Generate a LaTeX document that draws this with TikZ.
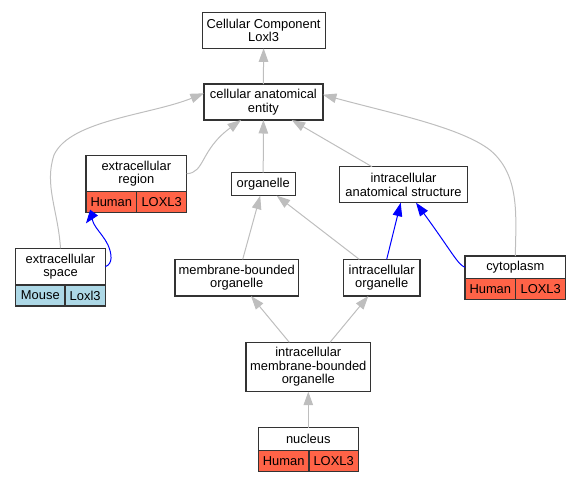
\documentclass[tikz,border=0pt]{standalone}
\usepackage{fontspec}
\setmainfont{Liberation Sans}
\usetikzlibrary{arrows.meta,positioning}
\definecolor{human}{HTML}{FF6347}
\definecolor{mouse}{HTML}{ADD8E6}
\definecolor{isagray}{HTML}{BEBEBE}
\tikzset{>={Triangle[length=13.5pt,width=9.5pt]}}
\tikzset{
  term/.style={draw=black!80, line width=1.2pt, fill=white, align=center,
    inner sep=0pt, outer sep=0pt, font=\fontsize{12.9}{13.4}\selectfont},
  cell/.style={term, minimum height=21pt, anchor=north west},
  isa/.style={->, draw=isagray, line width=1pt},
  partof/.style={->, draw=blue, line width=1pt}
}

\begin{document}
\begin{tikzpicture}[x=1pt,y=1pt,yscale=-1]
\useasboundingbox (0,0) rectangle (580,483);

%Shape: Rectangle [root]
\node[term, minimum width=123pt, minimum height=35.6pt] (root) at (263.6,30.5) {Cellular Component\\Loxl3};
%Shape: Rectangle [cae]
\node[term, minimum width=119pt, minimum height=36pt] (cae) at (263.4,102) {cellular anatomical\\entity};
%Shape: Table [extreg]
\node[term, minimum width=100.7pt, minimum height=36pt] (extreg) at (136.3,173.7) {extracellular\\region};
\node[cell, fill=human, minimum width=50.7pt] (extregHs) at (extreg.south west) {Human};
\node[cell, fill=human, minimum width=50pt] (extregGn) at (extregHs.north east) {LOXL3};
%Shape: Rectangle [organelle]
\node[term, minimum width=64pt, minimum height=23pt] (organelle) at (263.2,184.2) {organelle};
%Shape: Rectangle [ias]
\node[term, minimum width=128.4pt, minimum height=36pt] (ias) at (403.5,184.7) {intracellular\\anatomical structure};
%Shape: Table [extspace]
\node[term, minimum width=89.6pt, minimum height=36.7pt] (extspace) at (60.5,266.6) {extracellular\\space};
\node[cell, fill=mouse, minimum width=49.3pt] (extspaceMm) at (extspace.south west) {Mouse};
\node[cell, fill=mouse, minimum width=40.3pt] (extspaceGn) at (extspaceMm.north east) {Loxl3};
%Shape: Rectangle [mbo]
\node[term, minimum width=123.3pt, minimum height=36.7pt] (mbo) at (236.7,277.7) {membrane-bounded\\organelle};
%Shape: Rectangle [io]
\node[term, minimum width=76.7pt, minimum height=36.7pt] (io) at (381.7,277.7) {intracellular\\organelle};
%Shape: Table [cyto]
\node[term, minimum width=100.7pt, minimum height=22.3pt] (cyto) at (515.3,267.2) {cytoplasm};
\node[cell, fill=human, minimum width=50.7pt] (cytoHs) at (cyto.south west) {Human};
\node[cell, fill=human, minimum width=50pt] (cytoGn) at (cytoHs.north east) {LOXL3};
%Shape: Rectangle [imbo]
\node[term, minimum width=124.7pt, minimum height=49.4pt] (imbo) at (308.3,367) {intracellular\\membrane-bounded\\organelle};
%Shape: Table [nucleus]
\node[term, minimum width=100pt, minimum height=23pt] (nucleus) at (308.3,439.2) {nucleus};
\node[cell, fill=human, minimum width=50.7pt] (nucleusHs) at (nucleus.south west) {Human};
\node[cell, fill=human, minimum width=49.3pt] (nucleusGn) at (nucleusHs.north east) {LOXL3};

%Straight Lines
\draw[isa] (cae.north) -- (root.south);
\draw[isa] (organelle.north) -- (cae.south);
\draw[isa] ([xshift=-31.5pt]ias.north) -- ([xshift=28.3pt]cae.south);
%Curve Lines
\draw[isa] (extreg.east) .. controls (205,173) and (200,150) .. ([xshift=-22.4pt]cae.south);
\draw[isa] (extspace.north) .. controls (58,210) and (44,185) .. (54,155) .. controls (70,120) and (150,115) .. ([yshift=-8.7pt]cae.west);
\draw[isa] (cyto.north) .. controls (516,215) and (520,175) .. (490,150) .. controls (460,127) and (390,113) .. ([yshift=-7.3pt]cae.east);
%Straight Lines
\draw[isa] ([xshift=6pt]mbo.north) -- ([xshift=-3pt]organelle.south);
\draw[isa] ([xshift=-22.4pt]io.north) -- ([xshift=13.5pt]organelle.south);
\draw[isa] ([xshift=-19pt]imbo.north) -- ([xshift=14.3pt]mbo.south);
\draw[isa] ([xshift=21.7pt]imbo.north) -- ([xshift=-13.4pt]io.south);
\draw[isa] (nucleus.north) -- (imbo.south);
%Blue Lines
\draw[partof] ([xshift=5pt]io.north) -- ([xshift=-2.8pt]ias.south);
\draw[partof] (cyto.west) .. controls (458,265) and (452,252) .. ([xshift=12.5pt]ias.south);
\draw[partof] (extspace.east) .. controls (113,264) and (112,254) .. (108,245) .. controls (102,232) and (87,222) .. ([yshift=10.7pt]extregHs.south west);
\end{tikzpicture}
\end{document}
